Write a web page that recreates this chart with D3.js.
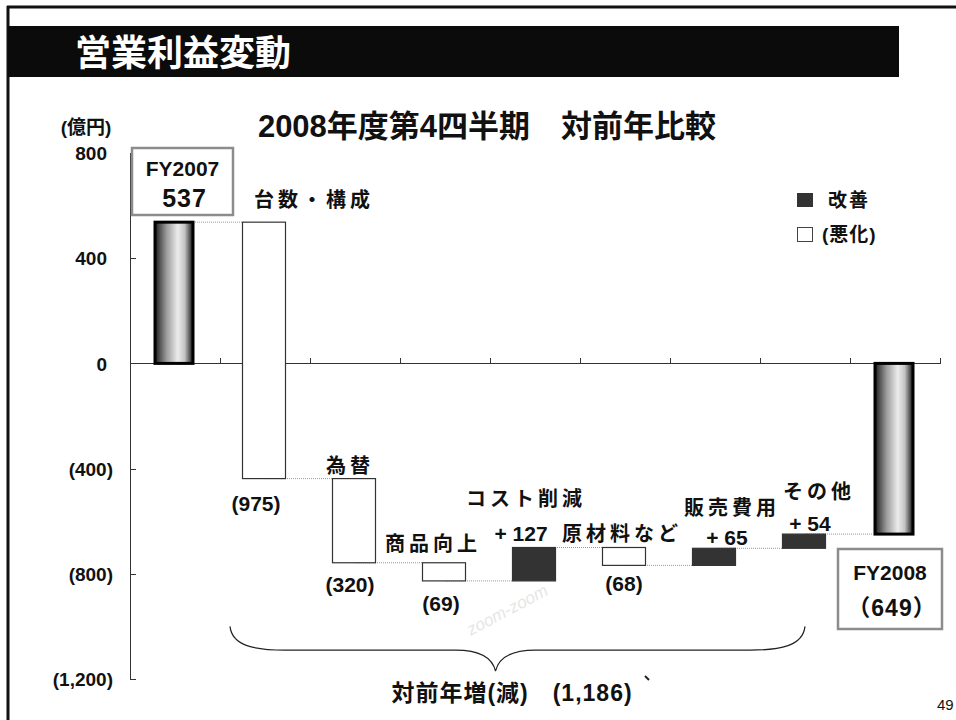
<!DOCTYPE html>
<meta charset="utf-8">
<html>
<head>
  <title>営業利益変動</title>
</head>
<style>
body { margin: 0; background: #fff; }
svg text {
  font-family: "Liberation Sans", "Noto Sans CJK JP", Arial, sans-serif;
  font-weight: bold;
  fill: #111;
}
.axis path, .axis line {
  fill: none;
  stroke: #333;
  shape-rendering: crispEdges;
}
.axis text {
  font-size: 19px;
}
.link {
  stroke: #999;
  stroke-dasharray: 1,1;
  fill: none;
}
</style>
<body>
<script src="https://d3js.org/d3.v7.min.js"></script>
<script>

// data
var categories = ["FY2007", "台数・構成", "為替", "商品向上", "コスト削減", "原材料など", "販売費用", "その他", "FY2008"];
var values     = [537, -975, -320, -69, 127, -68, 65, 54, -649];
var isTotal    = [true, false, false, false, false, false, false, false, true];
var valueText  = ["537", "(975)", "(320)", "(69)", "+ 127", "(68)", "+ 65", "+ 54", "（649）"];
var yTicks     = [800, 400, 0, -400, -800, -1200];
var totalChange = "対前年増(減)　(1,186)";

// label nudges (layout only)
var nameNudge  = [[0, 0], [49, -22], [-5, -13], [-12, -19], [-9, -49], [-3, -14], [17, -40], [14, -42], [0, 0]];
var valNudge   = [[0, 0], [-9, 25], [-5, 22], [-4, 23], [-14, -14], [-1, 18], [12, -11], [5, -11], [0, 0]];

var svg = d3.select("body").append("svg")
    .attr("width", 956)
    .attr("height", 720);

// frame + header bar
svg.append("line").attr("x1", 7).attr("x2", 956).attr("y1", 7).attr("y2", 7)
  .attr("stroke", "#111").attr("stroke-width", 3);
svg.append("line").attr("x1", 8).attr("x2", 8).attr("y1", 6).attr("y2", 720)
  .attr("stroke", "#111").attr("stroke-width", 3);
svg.append("rect").attr("x", 8).attr("y", 26).attr("width", 891).attr("height", 51)
  .attr("fill", "#0b0b0b");
svg.append("text").attr("x", 75).attr("y", 53)
  .attr("dominant-baseline", "central")
  .style("font-size", "36px").style("font-weight", "bold").style("fill", "#fff")
  .text("営業利益変動");

// subtitle
svg.append("text").attr("x", 487).attr("y", 126)
  .attr("text-anchor", "middle").attr("dominant-baseline", "central")
  .style("font-size", "31px")
  .text("2008年度第4四半期　対前年比較");

svg.append("text").attr("x", 86).attr("y", 127)
  .attr("text-anchor", "middle").attr("dominant-baseline", "central")
  .style("font-size", "19px")
  .text("(億円)");

// faint watermark
svg.append("text")
  .attr("transform", "translate(510,615) rotate(-28)")
  .attr("text-anchor", "middle")
  .style("font-size", "17px").style("font-style", "italic").style("font-weight", "normal")
  .style("fill", "#e6e6e6")
  .text("zoom-zoom");

// scales
var x = d3.scaleBand().domain(categories).range([130, 940]).padding(0);
var y = d3.scaleLinear().domain([-1200, 800]).range([679, 153]);
var bw = x.bandwidth();

// running levels
var level = 0;
var bars = categories.map(function(c, i) {
  var start, end;
  if (isTotal[i]) { start = 0; end = values[i]; level = values[i]; }
  else { start = level; end = level + values[i]; level = end; }
  return {name: c, i: i, start: start, end: end, v: values[i], total: isTotal[i]};
});

// y axis (accounting style: positives leave room for the closing paren)
var fmt = function(d) {
  return d < 0 ? "(" + d3.format(",")(-d) + ")" : d3.format(",")(d);
};
svg.append("g")
  .attr("class", "axis")
  .attr("transform", "translate(130,0)")
  .call(d3.axisLeft(y).tickValues(yTicks).tickFormat(fmt).tickSize(-6).tickSizeOuter(0).tickPadding(17))
  .call(function(g) {
    g.selectAll("text")
      .attr("dy", "0.35em")
      .attr("dx", function(d) { return d >= 0 ? -6 : 0; })
      .style("fill", "#111");
  });

// x axis line at zero with ticks on band edges
var edge = d3.scaleLinear().domain([0, categories.length]).range([130, 940]);
svg.append("g")
  .attr("class", "axis")
  .attr("transform", "translate(0," + y(0) + ")")
  .call(d3.axisTop(edge).tickValues(d3.range(1, categories.length + 1)).tickSize(5).tickSizeOuter(0).tickFormat(""));

// connectors
var cw = 43;
svg.append("g").selectAll("line")
  .data(bars.slice(0, -1))
  .enter()
  .append("line")
    .attr("class", "link")
    .attr("x1", function(d) { return x(d.name) + bw / 2; })
    .attr("x2", function(d) { return x(categories[d.i + 1]) + (bw - cw) / 2; })
    .attr("y1", function(d) { return y(d.end); })
    .attr("y2", function(d) { return y(d.end); });

// gradient for total bars
var grad = svg.append("defs").append("linearGradient")
  .attr("id", "cyl").attr("x1", "0%").attr("x2", "100%");
grad.append("stop").attr("offset", "0%").attr("stop-color", "#1e1e1e");
grad.append("stop").attr("offset", "30%").attr("stop-color", "#9a9a9a");
grad.append("stop").attr("offset", "60%").attr("stop-color", "#ececec");
grad.append("stop").attr("offset", "78%").attr("stop-color", "#c4c4c4");
grad.append("stop").attr("offset", "100%").attr("stop-color", "#151515");

// bars
svg.append("g").selectAll("rect")
  .data(bars)
  .enter()
  .append("rect")
    .attr("x", function(d) { var w = d.total ? 38 : cw; return x(d.name) + (bw - w) / 2 - 1; })
    .attr("width", function(d) { return d.total ? 38 : cw; })
    .attr("y", function(d) { return y(Math.max(d.start, d.end)); })
    .attr("height", function(d) { return Math.abs(y(d.start) - y(d.end)); })
    .attr("fill", function(d) { return d.total ? "url(#cyl)" : (d.v > 0 ? "#333" : "#fff"); })
    .attr("stroke", function(d) { return d.total ? "#000" : "#333"; })
    .attr("stroke-width", function(d) { return d.total ? 3 : 1.2; });

// delta labels
var deltas = bars.filter(function(d) { return !d.total; });
svg.append("g").selectAll("text")
  .data(deltas)
  .enter()
  .append("text")
    .attr("x", function(d) { return x(d.name) + bw / 2 + nameNudge[d.i][0]; })
    .attr("y", function(d) { return y(Math.max(d.start, d.end)) + nameNudge[d.i][1]; })
    .attr("text-anchor", "middle").attr("dominant-baseline", "central")
    .style("font-size", "20px").style("letter-spacing", "4px")
    .text(function(d) { return d.name; });

svg.append("g").selectAll("text")
  .data(deltas)
  .enter()
  .append("text")
    .attr("x", function(d) { return x(d.name) + bw / 2 + valNudge[d.i][0]; })
    .attr("y", function(d) { return y(d.end) + valNudge[d.i][1]; })
    .attr("text-anchor", "middle").attr("dominant-baseline", "central")
    .style("font-size", "21px")
    .text(function(d) { return valueText[d.i]; });

// total boxes
var boxes = [
  {i: 0, x: x(categories[0]) + 2, y: 148, w: 101, h: 67},
  {i: 8, x: x(categories[8]) - 12, y: 549, w: 104, h: 80}
];
boxes.forEach(function(b) {
  svg.append("rect").attr("x", b.x).attr("y", b.y).attr("width", b.w).attr("height", b.h)
    .attr("fill", "#fff").attr("stroke", "#8c8c8c").attr("stroke-width", 2.5);
  svg.append("text").attr("x", b.x + b.w / 2).attr("y", b.y + (b.i === 0 ? 20 : 23))
    .attr("text-anchor", "middle").attr("dominant-baseline", "central")
    .style("font-size", "21px")
    .text(categories[b.i]);
  svg.append("text").attr("x", b.x + b.w / 2 + 2).attr("y", b.y + (b.i === 0 ? 50 : 59))
    .attr("text-anchor", "middle").attr("dominant-baseline", "central")
    .style("font-size", b.i === 0 ? "25px" : "23px").style("letter-spacing", "1px")
    .text(valueText[b.i]);
});

// legend
svg.append("rect").attr("x", 797).attr("y", 193).attr("width", 16).attr("height", 14).attr("fill", "#333");
svg.append("text").attr("x", 828).attr("y", 200).attr("dominant-baseline", "central")
  .style("font-size", "19px").style("letter-spacing", "2px").text("改善");
svg.append("rect").attr("x", 797.5).attr("y", 227.5).attr("width", 15).attr("height", 14)
  .attr("fill", "#fff").attr("stroke", "#444");
svg.append("text").attr("x", 822).attr("y", 234).attr("dominant-baseline", "central")
  .style("font-size", "19px").style("letter-spacing", "1px").text("(悪化)");

// brace under the deltas
var bx0 = x(categories[1]) + 10,
    bx1 = x(categories[7]) + bw / 2,
    bmid = (bx0 + bx1) / 2 - 22,
    byTop = y(-1000), byMid = y(-1090), byTip = y(-1170);
var p = d3.path();
p.moveTo(bx0, byTop);
p.bezierCurveTo(bx0 + 2, byMid - 4, bx0 + 25, byMid, bx0 + 55, byMid);
p.lineTo(bmid - 40, byMid);
p.bezierCurveTo(bmid - 15, byMid, bmid - 3, byMid + 8, bmid, byTip);
p.bezierCurveTo(bmid + 3, byMid + 8, bmid + 15, byMid, bmid + 40, byMid);
p.lineTo(bx1 - 55, byMid);
p.bezierCurveTo(bx1 - 25, byMid, bx1 - 2, byMid - 4, bx1, byTop);
svg.append("path").attr("d", p.toString())
  .attr("fill", "none").attr("stroke", "#222").attr("stroke-width", 1.2);

svg.append("text").attr("x", 512).attr("y", 693)
  .attr("text-anchor", "middle").attr("dominant-baseline", "central")
  .style("font-size", "23px").style("letter-spacing", "1px")
  .text(totalChange);
svg.append("line").attr("x1", 645).attr("y1", 676).attr("x2", 649).attr("y2", 680)
  .attr("stroke", "#222").attr("stroke-width", 2);

// page number
svg.append("text").attr("x", 937).attr("y", 704).attr("dominant-baseline", "central")
  .style("font-size", "15px").style("font-weight", "normal")
  .text("49");

</script>
</body>
</html>
